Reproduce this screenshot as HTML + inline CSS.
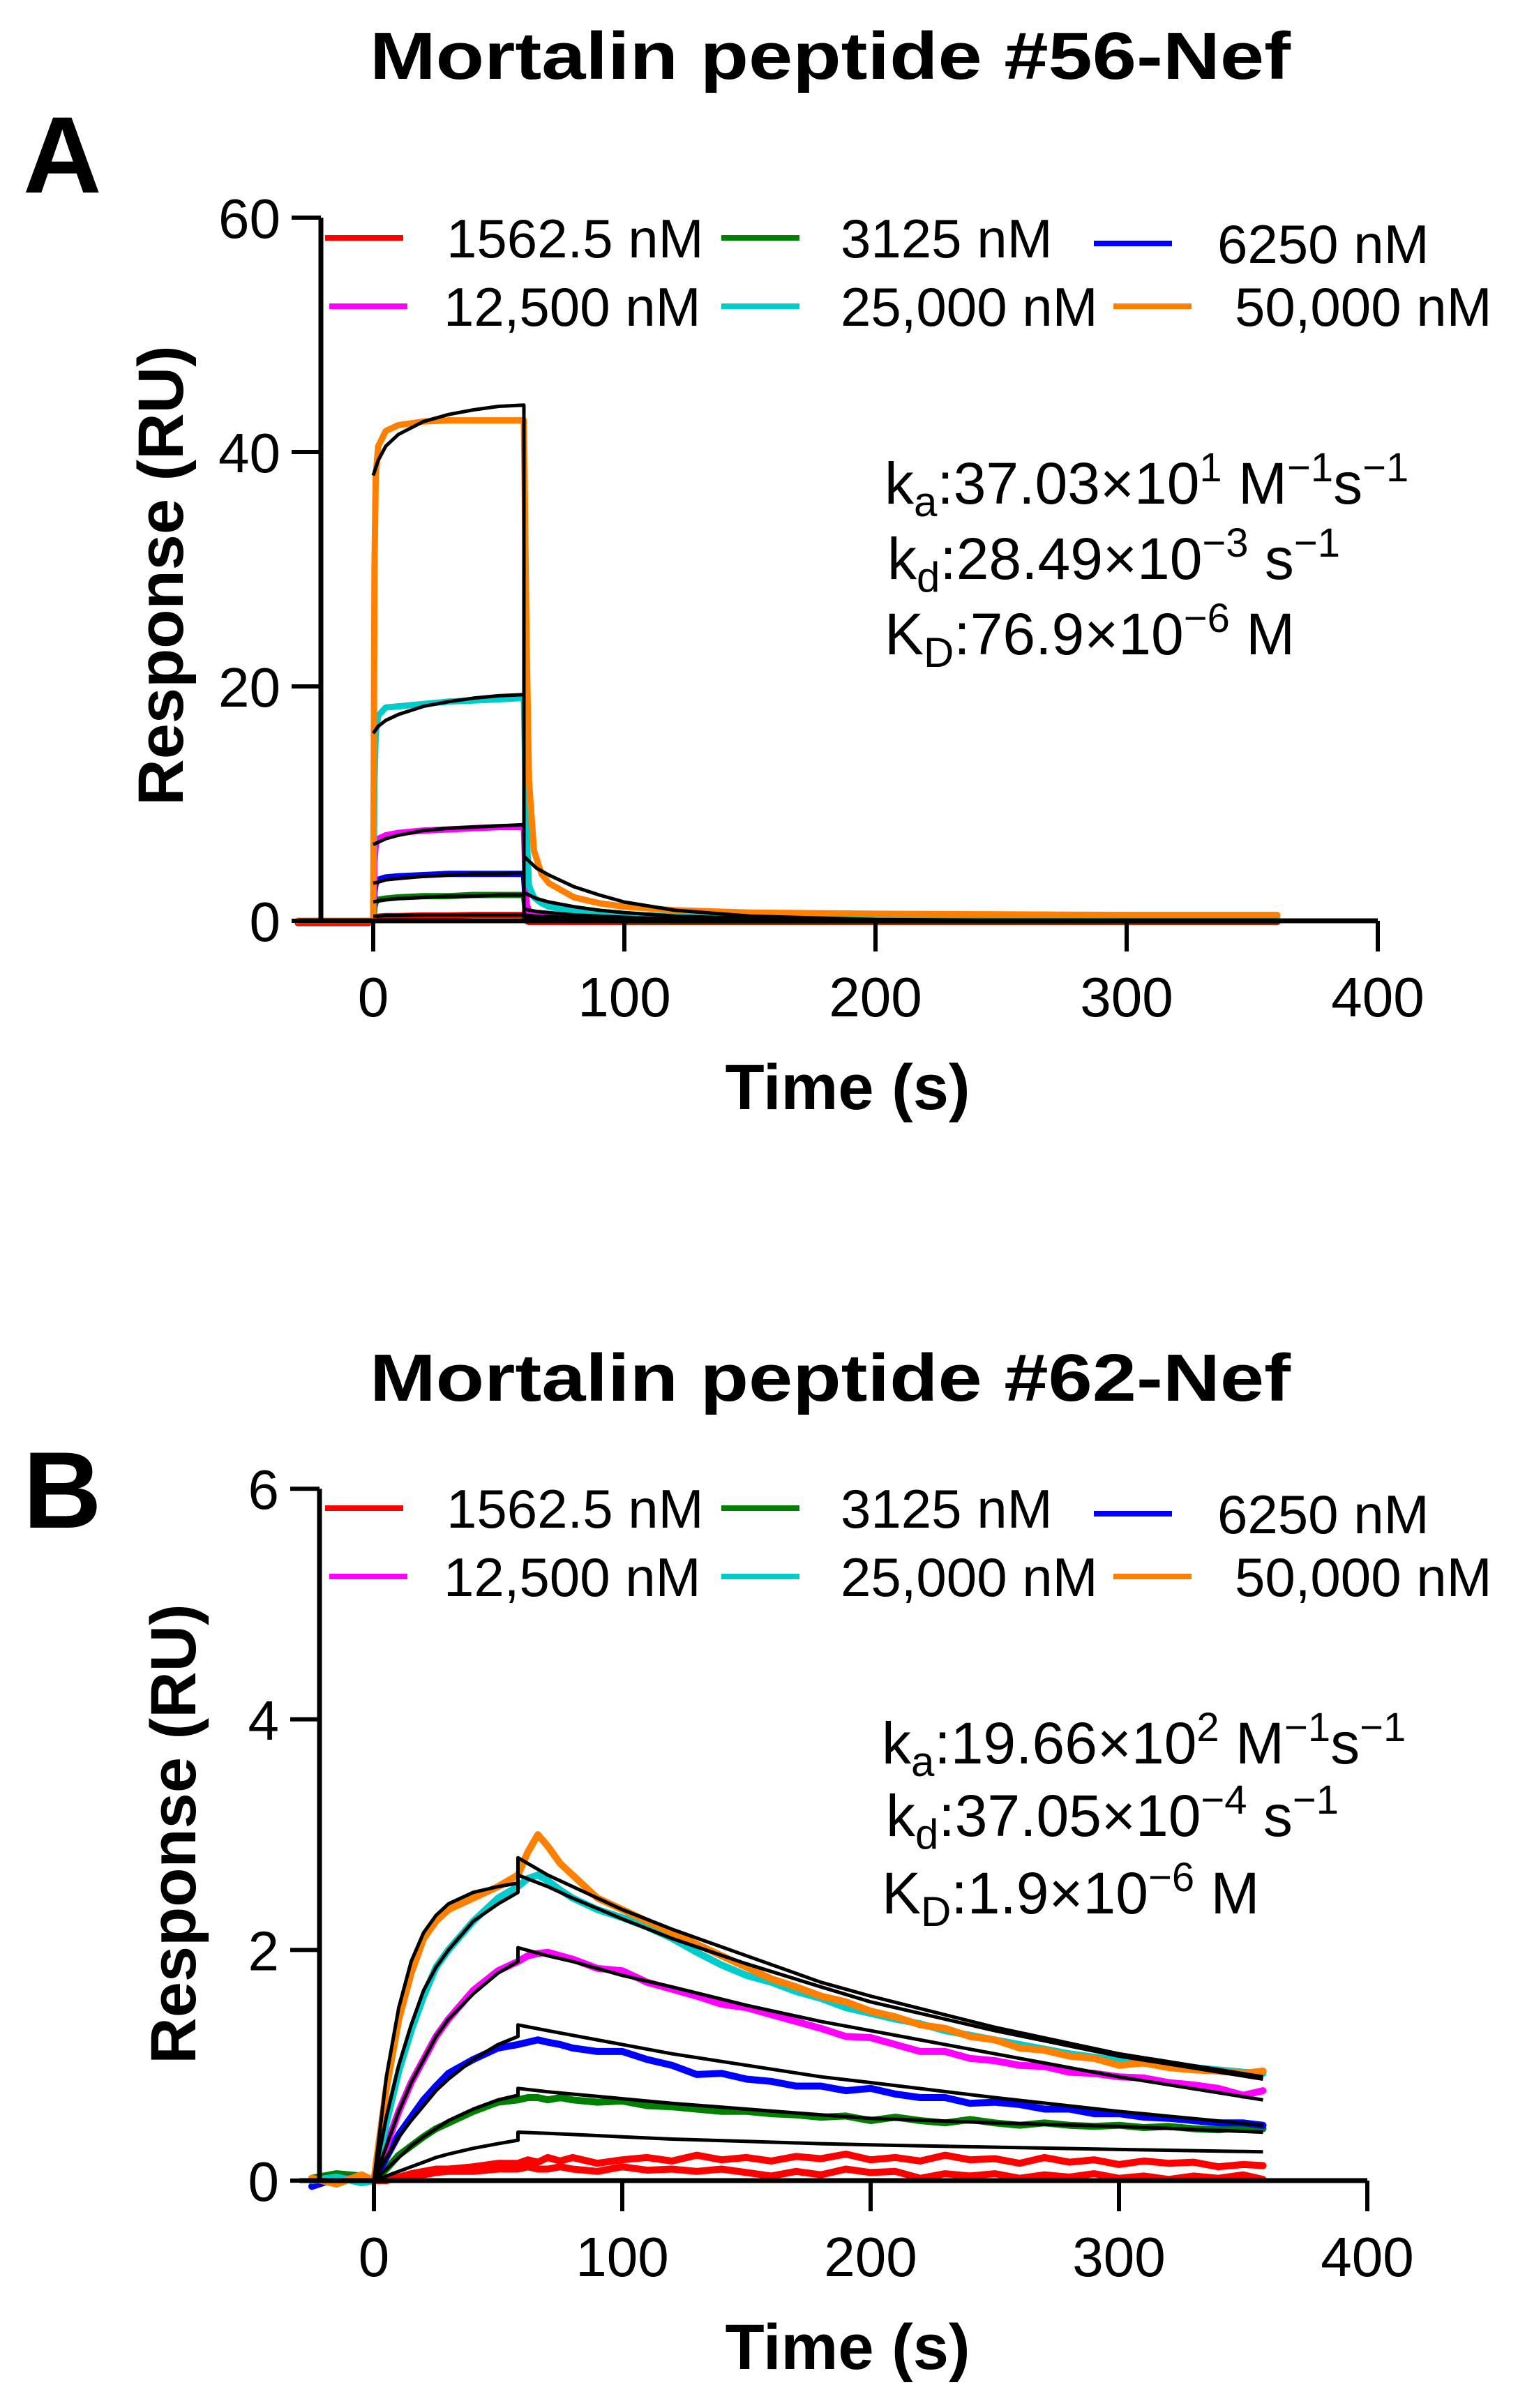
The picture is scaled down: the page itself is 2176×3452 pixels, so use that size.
<!DOCTYPE html>
<html><head><meta charset="utf-8"><style>
html,body{margin:0;padding:0;background:#fff;}
svg{display:block;}
text{font-family:"Liberation Sans",Arial,sans-serif;fill:#000;}
</style></head><body>
<svg id="fig" width="2176" height="3452" viewBox="0 0 2176 3452" xmlns="http://www.w3.org/2000/svg">
<rect width="2176" height="3452" fill="#fff"/>
</svg>
<script>
// ---------- Panel A data ----------
const aDataTimes = [-30,-2,0,0.5,1,2,5,10,20,30,40,50,59,60,61,62,64,67,70,80,90,100,120,150,200,250,300,360];
const aOrange  = [0,0,0,30,38,40.5,41.8,42.3,42.6,42.7,42.7,42.7,42.7,42.7,25,12,6,4,3.2,2.0,1.5,1.2,0.9,0.7,0.6,0.55,0.5,0.5];
const aCyan    = [0,0,0,12,16,17.5,18.2,18.3,18.5,18.7,18.8,18.9,19.0,19.0,8,3,2,1.5,1.2,0.8,0.6,0.5,0.4,0.3,0.25,0.2,0.2,0.2];
const aMagenta = [0,0,0,5,6.5,7.0,7.3,7.5,7.7,7.8,7.9,8.0,8.0,8.0,1.5,0.8,0.5,0.4,0.3,0.2,0.15,0.1,0.1,0.1,0.1,0.1,0.1,0.1];
const aBlue    = [0,0,0,2.5,3.2,3.5,3.7,3.8,3.9,4.0,4.0,4.0,4.0,4.0,0.8,0.4,0.3,0.2,0.2,0.1,0.1,0.1,0.05,0.05,0.05,0.05,0.05,0.05];
const aGreen   = [0,0,0,1.2,1.6,1.8,1.9,2.0,2.1,2.1,2.2,2.2,2.2,2.2,0.4,0.2,0.1,0.1,0.1,0.05,0.05,0,0,0,0,0,0,0];
const aRed     = [-0.2,-0.2,0,0.2,0.3,0.35,0.4,0.4,0.45,0.45,0.5,0.5,0.5,0.5,0,-0.1,-0.1,-0.1,-0.1,-0.1,-0.1,-0.1,-0.1,-0.1,-0.1,-0.1,-0.1,-0.1];
const aFitTimes = [0,2,5,10,20,30,40,50,60,60,65,70,80,90,100,120,150,200,250,300,360];
const aFitOrange  = [38,39.3,40.5,41.5,42.6,43.2,43.6,43.9,44.0,5.5,4.5,3.9,2.9,2.2,1.6,0.9,0.4,0.1,0.05,0,0];
const aFitCyan    = [16,16.6,17.1,17.6,18.3,18.7,19.0,19.2,19.3,2.4,1.9,1.6,1.2,0.9,0.7,0.4,0.2,0.05,0,0,0];
const aFitMagenta = [6.5,6.7,7.0,7.3,7.7,7.9,8.0,8.1,8.2,1.0,0.8,0.7,0.5,0.4,0.3,0.15,0.07,0,0,0,0];
const aFitBlue    = [3.2,3.3,3.5,3.6,3.8,3.9,4.0,4.0,4.1,0.5,0.4,0.35,0.25,0.2,0.15,0.08,0.03,0,0,0,0];
const aFitGreen   = [1.6,1.7,1.8,1.9,2.0,2.1,2.1,2.2,2.2,0.25,0.2,0.18,0.13,0.1,0.08,0.04,0.02,0,0,0,0];
const aFitRed     = [0.4,0.4,0.45,0.45,0.5,0.5,0.5,0.5,0.5,0.06,0.05,0.04,0.03,0.02,0.02,0.01,0,0,0,0,0];
const aYTicks = [0,20,40,60];
const aXTicks = [0,100,200,300,400];

// ---------- Panel B data ----------
const bDataTimes = [-25,-15,-5,0,5,10,15,20,25,30,40,50,58,62,66,70,75,80,90,100,110,120,130,140,150,160,170,180,190,200,210,220,230,240,250,260,270,280,290,300,310,320,330,340,350,358];
const bOrange  = [0.02,-0.03,0.05,0,0.8,1.4,1.8,2.1,2.25,2.35,2.45,2.55,2.65,2.85,3.0,2.9,2.75,2.65,2.45,2.35,2.25,2.15,2.05,1.95,1.85,1.75,1.68,1.6,1.55,1.47,1.42,1.35,1.32,1.25,1.22,1.15,1.13,1.08,1.06,1.0,1.02,0.98,0.96,0.95,0.93,0.95];
const bCyan    = [0,0.03,-0.02,0,0.5,0.95,1.3,1.6,1.85,2.0,2.25,2.45,2.55,2.62,2.65,2.6,2.52,2.45,2.35,2.28,2.2,2.1,1.98,1.87,1.78,1.72,1.64,1.58,1.5,1.45,1.4,1.36,1.3,1.26,1.22,1.18,1.14,1.1,1.07,1.04,1.02,1.0,0.98,0.96,0.94,0.93];
const bMagenta = [0,0.02,0.01,0,0.3,0.6,0.85,1.05,1.25,1.4,1.65,1.82,1.9,1.95,1.97,1.98,1.95,1.92,1.84,1.82,1.72,1.66,1.6,1.53,1.5,1.44,1.38,1.32,1.25,1.24,1.18,1.12,1.12,1.06,1.04,1.0,0.99,0.94,0.93,0.9,0.89,0.85,0.83,0.8,0.74,0.78];
const bBlue    = [-0.05,0.02,0,0,0.2,0.4,0.55,0.7,0.82,0.93,1.05,1.15,1.18,1.2,1.22,1.2,1.18,1.15,1.12,1.12,1.05,1.0,0.92,0.93,0.88,0.86,0.82,0.82,0.78,0.8,0.75,0.72,0.72,0.67,0.68,0.66,0.62,0.62,0.58,0.58,0.55,0.54,0.52,0.5,0.5,0.48];
const bGreen   = [0.02,0.06,0.04,0,0.1,0.22,0.3,0.38,0.45,0.5,0.6,0.68,0.7,0.72,0.72,0.7,0.72,0.7,0.68,0.69,0.65,0.64,0.62,0.6,0.6,0.58,0.57,0.55,0.56,0.52,0.55,0.52,0.5,0.53,0.5,0.48,0.5,0.48,0.47,0.48,0.46,0.47,0.45,0.44,0.46,0.45];
const bRed     = [0.02,0,0.03,0,0.0,0.03,0.06,0.08,0.1,0.1,0.12,0.15,0.15,0.18,0.16,0.2,0.17,0.2,0.15,0.18,0.2,0.17,0.22,0.18,0.2,0.17,0.21,0.19,0.23,0.18,0.2,0.17,0.22,0.18,0.19,0.15,0.2,0.16,0.18,0.14,0.17,0.15,0.16,0.12,0.14,0.13];
const bRed2    = [0,0.02,0,0,0.01,0.02,0.04,0.05,0.07,0.08,0.08,0.1,0.1,0.12,0.1,0.1,0.12,0.1,0.08,0.12,0.09,0.1,0.08,0.1,0.07,0.04,0.08,0.05,0.1,0.07,0.08,0.02,0.06,0.04,0.06,0.02,0.05,0.03,0.06,0.02,0.04,0.01,0.04,0.02,0.05,0.01];
const bFitTimes = [0,5,10,15,20,25,30,40,50,58,58,70,80,100,120,150,180,200,250,300,358];
const bFitOrange  = [0,0.9,1.5,1.9,2.15,2.3,2.4,2.5,2.55,2.58,2.8,2.65,2.55,2.35,2.18,1.95,1.72,1.6,1.33,1.1,0.9];
const bFitCyan    = [0,0.55,1.0,1.35,1.65,1.85,2.0,2.25,2.4,2.5,2.65,2.55,2.45,2.27,2.1,1.88,1.68,1.55,1.3,1.08,0.88];
const bFitMagenta = [0,0.3,0.6,0.85,1.05,1.25,1.4,1.62,1.8,1.9,2.02,1.95,1.9,1.78,1.68,1.52,1.38,1.3,1.1,0.9,0.7];
const bFitBlue    = [0,0.2,0.38,0.52,0.65,0.78,0.88,1.05,1.18,1.25,1.35,1.3,1.26,1.18,1.1,1.0,0.9,0.85,0.72,0.6,0.48];
const bFitGreen   = [0,0.1,0.2,0.3,0.38,0.45,0.52,0.62,0.7,0.74,0.8,0.77,0.75,0.71,0.67,0.62,0.57,0.54,0.5,0.47,0.42];
const bFitRed     = [0,0.04,0.08,0.12,0.16,0.2,0.23,0.28,0.32,0.35,0.42,0.41,0.4,0.38,0.36,0.34,0.32,0.31,0.29,0.27,0.25];
const bYTicks = [0,2,4,6];
const bXTicks = [0,100,200,300,400];

const legendLabels = ["1562.5 nM","3125 nM","6250 nM","12,500 nM","25,000 nM","50,000 nM"];
const legendColors = ["#ff0000","#008000","#0000ff","#ff00ff","#00cccc","#ff8000"];

const NS = "http://www.w3.org/2000/svg";
const svg = document.getElementById('fig');
function mk(tag, attrs, parent){
  const e = document.createElementNS(NS, tag);
  for (const k in attrs) e.setAttribute(k, attrs[k]);
  (parent||svg).appendChild(e);
  return e;
}

function panel(cfg){
  const g = mk('g', {});
  
  
  const X = t => cfg.x0 + t * cfg.xs;
  const Y = v => cfg.y0 - v * cfg.ys;
  const title = mk('text', {x: 1190, y: cfg.titleY, 'font-size': 96, 'font-weight': 'bold', 'text-anchor': 'middle', textLength: 1320, lengthAdjust: 'spacingAndGlyphs'}, g);
  title.textContent = cfg.title;
  
  
  const lab = mk('text', {x: 33, y: cfg.letterY, 'font-size': 156, 'font-weight': 'bold'}, g);
  lab.textContent = cfg.letter;
  
  
  cfg.data.forEach((s, i) => {
    let d = '';
    cfg.dataTimes.forEach((t, j) => { d += (j ? 'L' : 'M') + X(t).toFixed(1) + ',' + Y(s.v[j]).toFixed(1); });
    const p = mk('path', {d: d, fill: 'none', stroke: s.c, 'stroke-width': cfg.dw, 'stroke-linejoin': 'round', 'stroke-linecap': 'round'}, g);
    
    
  });
  cfg.fits.forEach((s, i) => {
    let d = '';
    cfg.fitTimes.forEach((t, j) => { d += (j ? 'L' : 'M') + X(t).toFixed(1) + ',' + Y(s.v[j]).toFixed(1); });
    const p = mk('path', {d: d, fill: 'none', stroke: '#000', 'stroke-width': 5, 'stroke-linejoin': 'round'}, g);
    
    
  });
  const ax = mk('path', {d: 'M' + cfg.axX + ',' + Y(cfg.yTicks[cfg.yTicks.length-1]) + 'V' + cfg.y0 + 'M' + X(-30) + ',' + cfg.y0 + 'H' + X(400), stroke: '#000', 'stroke-width': 7, fill: 'none'}, g);
  
  
  cfg.yTicks.forEach(v => {
    const tk = mk('line', {x1: cfg.axX - 42, x2: cfg.axX, y1: Y(v), y2: Y(v), stroke: '#000', 'stroke-width': 6}, g);
    
    
    const tl = mk('text', {x: cfg.axX - 58, y: Y(v) + 29, 'font-size': 80, 'text-anchor': 'end'}, g);
    tl.textContent = v;
    
    
  });
  cfg.xTicks.forEach(v => {
    const tk = mk('line', {x1: X(v), x2: X(v), y1: cfg.y0, y2: cfg.y0 + 44, stroke: '#000', 'stroke-width': 6}, g);
    
    
    const tl = mk('text', {x: X(v), y: cfg.y0 + 137, 'font-size': 80, 'text-anchor': 'middle'}, g);
    tl.textContent = v;
    
    
  });
  const xt = mk('text', {x: 1215, y: cfg.y0 + 270, 'font-size': 92, 'font-weight': 'bold', 'text-anchor': 'middle'}, g);
  xt.textContent = 'Time (s)';
  
  
  const yt = mk('text', {x: 0, y: 0, 'font-size': 92, 'font-weight': 'bold', 'text-anchor': 'middle', transform: 'translate(' + cfg.ytX + ',' + cfg.ytY + ') rotate(-90)'}, g);
  yt.textContent = 'Response (RU)';
  
  
  const lx = [[466, 1034, 1568], [472, 1034, 1596]];
  const tx = [[640, 1205, 1745], [636, 1205, 1770]];
  legendLabels.forEach((l, i) => {
    const r = Math.floor(i / 3), c = i % 3;
    const ly = cfg.legY[r] + (c === 2 && r === 0 ? 8 : 0);
    const le = mk('g', {}, g);
    
    
    mk('line', {x1: lx[r][c], x2: lx[r][c] + 112, y1: ly, y2: ly, stroke: legendColors[i], 'stroke-width': 8}, le);
    const t = mk('text', {x: tx[r][c], y: ly + 28, 'font-size': 78}, le);
    t.textContent = l;
  });
  const an = mk('text', {x: cfg.annX, y: cfg.annY[0], 'font-size': 84}, g);
  
  
  an.innerHTML = cfg.ann;
}

panel({name: 'panel-a', title: 'Mortalin peptide #56-Nef', titleY: 113, letter: 'A', letterY: 276,
  x0: 535, xs: 3.6, y0: 1320, ys: 16.8, axX: 460, dw: 9,
  dataTimes: aDataTimes, fitTimes: aFitTimes,
  data: [{n:'1562nm',c:'#ff0000',v:aRed},{n:'3125nm',c:'#008000',v:aGreen},{n:'6250nm',c:'#0000ff',v:aBlue},{n:'12500nm',c:'#ff00ff',v:aMagenta},{n:'25000nm',c:'#00cccc',v:aCyan},{n:'50000nm',c:'#ff8000',v:aOrange}],
  fits: [{n:'50000nm',v:aFitOrange},{n:'25000nm',v:aFitCyan},{n:'12500nm',v:aFitMagenta},{n:'6250nm',v:aFitBlue},{n:'3125nm',v:aFitGreen},{n:'1562nm',v:aFitRed}],
  yTicks: aYTicks, xTicks: aXTicks, ytX: 262, ytY: 825, legY: [341, 439],
  annX: 1268, annY: [722],
  ann: '<tspan>k</tspan><tspan font-size="60" dy="18">a</tspan><tspan dy="-18">:37.03×10</tspan><tspan font-size="58" dy="-32">1</tspan><tspan dy="32"> M</tspan><tspan font-size="58" dy="-32">−1</tspan><tspan dy="32">s</tspan><tspan font-size="58" dy="-32">−1</tspan>' +
       '<tspan x="1272" dy="140">k</tspan><tspan font-size="60" dy="18">d</tspan><tspan dy="-18">:28.49×10</tspan><tspan font-size="58" dy="-32">−3</tspan><tspan dy="32"> s</tspan><tspan font-size="58" dy="-32">−1</tspan>' +
       '<tspan x="1268" dy="140">K</tspan><tspan font-size="60" dy="18">D</tspan><tspan dy="-18">:76.9×10</tspan><tspan font-size="58" dy="-32">−6</tspan><tspan dy="32"> M</tspan>'
});

panel({name: 'panel-b', title: 'Mortalin peptide #62-Nef', titleY: 2008, letter: 'B', letterY: 2190,
  x0: 536, xs: 3.56, y0: 3126, ys: 165.3, axX: 458, dw: 10,
  dataTimes: bDataTimes, fitTimes: bFitTimes,
  data: [{n:'1562nm',c:'#ff0000',v:bRed},{n:'1562nm-rep',c:'#ff0000',v:bRed2},{n:'3125nm',c:'#008000',v:bGreen},{n:'6250nm',c:'#0000ff',v:bBlue},{n:'12500nm',c:'#ff00ff',v:bMagenta},{n:'25000nm',c:'#00cccc',v:bCyan},{n:'50000nm',c:'#ff8000',v:bOrange}],
  fits: [{n:'50000nm',v:bFitOrange},{n:'25000nm',v:bFitCyan},{n:'12500nm',v:bFitMagenta},{n:'6250nm',v:bFitBlue},{n:'3125nm',v:bFitGreen},{n:'1562nm',v:bFitRed}],
  yTicks: bYTicks, xTicks: bXTicks, ytX: 280, ytY: 2629, legY: [2162, 2260],
  annX: 1264, annY: [2528],
  ann: '<tspan>k</tspan><tspan font-size="60" dy="18">a</tspan><tspan dy="-18">:19.66×10</tspan><tspan font-size="58" dy="-32">2</tspan><tspan dy="32"> M</tspan><tspan font-size="58" dy="-32">−1</tspan><tspan dy="32">s</tspan><tspan font-size="58" dy="-32">−1</tspan>' +
       '<tspan x="1270" dy="136">k</tspan><tspan font-size="60" dy="18">d</tspan><tspan dy="-18">:37.05×10</tspan><tspan font-size="58" dy="-32">−4</tspan><tspan dy="32"> s</tspan><tspan font-size="58" dy="-32">−1</tspan>' +
       '<tspan x="1264" dy="143">K</tspan><tspan font-size="60" dy="18">D</tspan><tspan dy="-18">:1.9×10</tspan><tspan font-size="58" dy="-32">−6</tspan><tspan dy="32"> M</tspan>'
});
</script>
</body></html>
